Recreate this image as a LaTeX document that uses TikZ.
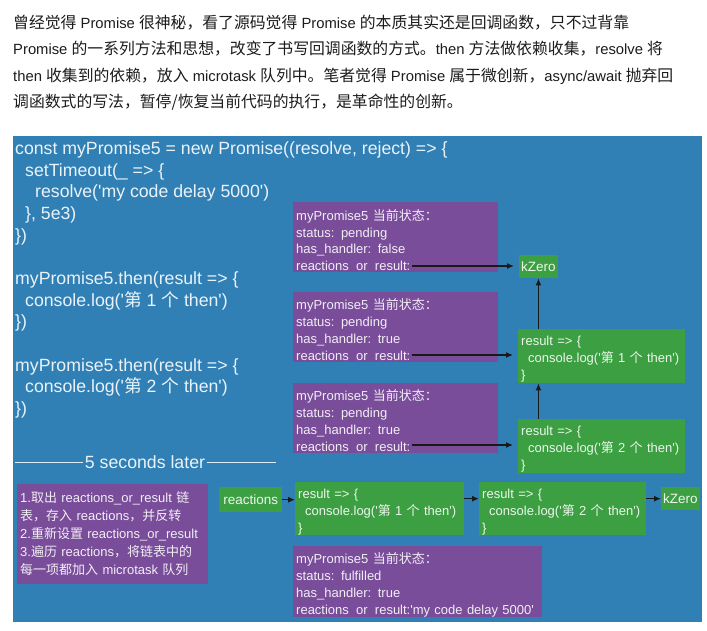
\documentclass[tikz,border=0pt]{standalone}
\usepackage{fontspec}
\setmainfont{Liberation Sans}
\newfontfamily\cjk{Noto Sans CJK SC}
\newfontfamily\cjkp{Noto Sans CJK SC}[Scale=1.07]
\usetikzlibrary{arrows.meta}
\definecolor{bgblue}{RGB}{48,128,182}
\definecolor{ppl}{RGB}{121,77,153}
\definecolor{grn}{RGB}{60,160,66}
\definecolor{txtdark}{RGB}{28,28,28}
\newcommand{\tp}[1]{\rule{0pt}{#1pt}}
\newcommand{\bt}[1]{\rule[-#1pt]{0pt}{#1pt}}
\newcommand{\us}{\hphantom{\_}}
\begin{document}
\begin{tikzpicture}[x=1pt,y=-1pt,
  para/.style={anchor=base west,inner sep=0pt,text=txtdark,font=\fontsize{14.8}{18}\selectfont},
  code/.style={anchor=base west,inner sep=0pt,text=white,text opacity=0.9,font=\fontsize{17.7}{21}\selectfont},
  pbox/.style={fill=ppl,anchor=north west,inner xsep=3pt,inner ysep=0pt,align=left,
    text=white,text opacity=0.9,font=\fontsize{13}{16.8}\selectfont},
  gbox/.style={fill=grn,anchor=north west,inner xsep=3pt,inner ysep=0pt,align=left,
    text=white,text opacity=0.9,font=\fontsize{13}{17}\selectfont},
  gsmall/.style={fill=grn,anchor=north west,inner xsep=2pt,inner ysep=0pt,
    text=white,text opacity=0.9,font=\fontsize{13.5}{16}\selectfont},
  arr/.style={-{Latex[length=7pt,width=6pt]},line width=1.3pt,black!90},
  sep/.style={line width=0.9pt,white,opacity=0.85}
]
\useasboundingbox (0,0) rectangle (707,630);
\fill[white] (0,0) rectangle (707,630);
\fill[bgblue] (13,136) rectangle (702,622);

% paragraph
\node[para] (t1) at (13,28) {{\cjkp 曾经觉得} Promise {\cjkp 很神秘，看了源码觉得} Promise {\cjkp 的本质其实还是回调函数，只不过背靠}};
\node[para] (t2) at (13,54.5) {Promise {\cjkp 的一系列方法和思想，改变了书写回调函数的方式。}then {\cjkp 方法做依赖收集，}resolve {\cjkp 将}};
\node[para] (t3) at (13,81) {then {\cjkp 收集到的依赖，放入} microtask {\cjkp 队列中。笔者觉得} Promise {\cjkp 属于微创新，}async/await {\cjkp 抛弃回}};
\node[para] (t4) at (13,107) {{\cjkp 调函数式的写法，暂停/恢复当前代码的执行，是革命性的创新。}};

% code
\node[code] (c1) at (15,154.3) {const myPromise5 = new Promise((resolve, reject) => \{};
\node[code] (c2) at (25,176) {setTimeout(\_ => \{};
\node[code] (c3) at (35,197.6) {resolve(\textquotesingle my code delay 5000\textquotesingle)};
\node[code] (c4) at (25,219.3) {\}, 5e3)};
\node[code] (c5) at (15,241) {\})};
\node[code] (c6) at (15,284.3) {myPromise5.then(result => \{};
\node[code] (c7) at (25,306) {console.log(\textquotesingle{\cjk 第} 1 {\cjk 个} then\textquotesingle)};
\node[code] (c8) at (15,327.6) {\})};
\node[code] (c9) at (15,371) {myPromise5.then(result => \{};
\node[code] (c10) at (25,392.6) {console.log(\textquotesingle{\cjk 第} 2 {\cjk 个} then\textquotesingle)};
\node[code] (c11) at (15,414.3) {\})};

% 5 seconds later
\node[code,anchor=center,inner xsep=1.5pt] (sl) at (145,462) {5 seconds later};
\coordinate (sla) at (15,462);
\coordinate (slb) at (276,462);
\draw[sep] (sla) -- (sl.west);
\draw[sep] (sl.east) -- (slb);

% purple state boxes
\node[pbox,minimum width=205,minimum height=70,text width=199] (p1) at (293,202)
 {\tp{18}myPromise5 {\cjk 当前状态：}\\status: pending\\has\_handler: false\\reactions\us or\us result:\bt{1.6}};
\node[pbox,minimum width=205,minimum height=70,text width=199] (p2) at (293,292)
 {\tp{17.5}myPromise5 {\cjk 当前状态：}\\status: pending\\has\_handler: true\\reactions\us or\us result:\bt{2}};
\node[pbox,minimum width=205,minimum height=70,text width=199] (p3) at (293,383)
 {\tp{17.5}myPromise5 {\cjk 当前状态：}\\status: pending\\has\_handler: true\\reactions\us or\us result:\bt{2}};
\node[pbox,minimum width=249,minimum height=70,text width=243] (p4) at (293,546)
 {\tp{17.5}myPromise5 {\cjk 当前状态：}\\status: fulfilled\\has\_handler: true\\reactions\us or\us result:\textquotesingle my code delay 5000\textquotesingle\bt{2}};
\node[pbox,minimum width=191,minimum height=100,text width=185,font=\fontsize{13}{17.8}\selectfont] (p5) at (17,484)
 {\tp{18.5}1.{\cjk 取出} reactions\_or\_result {\cjk 链}\\{\cjk 表，存入} reactions{\cjk ，并反转}\\2.{\cjk 重新设置} reactions\_or\_result\\3.{\cjk 遍历} reactions{\cjk ，将链表中的}\\{\cjk 每一项都加入} microtask {\cjk 队列}\bt{10}};

% green boxes
\node[gsmall,minimum width=38,minimum height=23] (kz) at (519,255) {kZero};
\node[gbox,minimum width=167,minimum height=54,text width=161] (g1) at (518,329)
 {\tp{16}result => \{\\\hspace*{7pt}console.log(\textquotesingle{\cjk 第} 1 {\cjk 个} then\textquotesingle)\\\}\bt{4}};
\node[gbox,minimum width=167,minimum height=54,text width=161] (g2) at (518,419)
 {\tp{16}result => \{\\\hspace*{7pt}console.log(\textquotesingle{\cjk 第} 2 {\cjk 个} then\textquotesingle)\\\}\bt{4}};
\node[gsmall,minimum width=63,minimum height=25] (re) at (219,487) {reactions};
\node[gbox,minimum width=169,minimum height=53,text width=163] (g3) at (295,482)
 {\tp{16.5}result => \{\\\hspace*{7pt}console.log(\textquotesingle{\cjk 第} 1 {\cjk 个} then\textquotesingle)\\\}\bt{2.5}};
\node[gbox,minimum width=167,minimum height=53,text width=161] (g4) at (479,482)
 {\tp{16.5}result => \{\\\hspace*{7pt}console.log(\textquotesingle{\cjk 第} 2 {\cjk 个} then\textquotesingle)\\\}\bt{2.5}};
\node[gsmall,minimum width=38,minimum height=23] (kz2) at (661,487) {kZero};

% arrows
\coordinate (r1) at (412,266);
\coordinate (r2) at (412,355);
\coordinate (r3) at (412,445);
\draw[arr,shorten >=5pt] (r1) -- (kz.west |- r1);
\draw[arr,shorten >=5pt] (r2) -- (g1.west |- r2);
\draw[arr,shorten >=5pt] (r3) -- (g2.west |- r3);
\draw[arr] (g1.north -| kz.south) -- (kz.south);
\draw[arr] (g2.north -| kz.south) -- (g1.south -| kz.south);
\draw[arr] (re.east) -- (g3.west |- re.east);
\draw[arr] (g3.east |- kz2.west) -- (g4.west |- kz2.west);
\draw[arr] (g4.east |- kz2.west) -- (kz2.west);
\end{tikzpicture}
\end{document}
